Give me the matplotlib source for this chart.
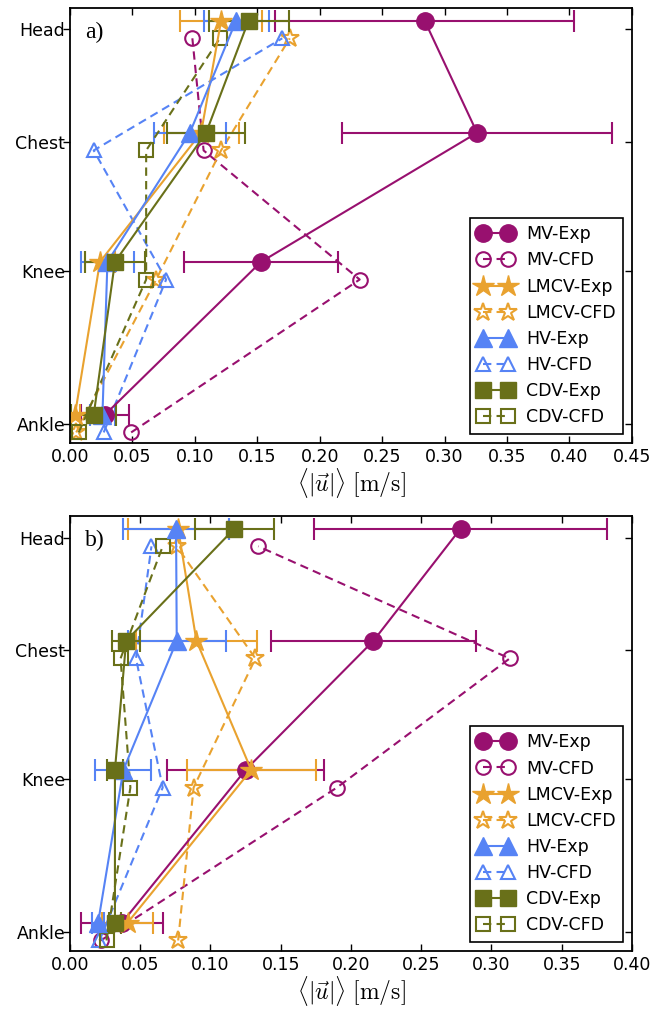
import numpy as np
import matplotlib
matplotlib.use('Agg')
import matplotlib.pyplot as plt
import matplotlib.lines as mlines

plt.rcParams['font.family'] = ['DejaVu Sans']
plt.rcParams['mathtext.fontset'] = 'cm'

# body locations (bottom to top) and their heights
levels = ['Ankle', 'Knee', 'Chest', 'Head']
heights = np.array([0.10, 0.55, 0.93, 1.26])

# panel a) -- mean speed [m/s] at Ankle, Knee, Chest, Head
mv_exp_a = [0.028, 0.153, 0.326, 0.284]
mv_err_a = [0.019, 0.062, 0.108, 0.120]
mv_cfd_a = [0.049, 0.232, 0.107, 0.098]
lmcv_exp_a = [0.004, 0.024, 0.105, 0.121]
lmcv_err_a = [0.004, 0.012, 0.030, 0.033]
lmcv_cfd_a = [0.005, 0.069, 0.121, 0.176]
hv_exp_a = [0.026, 0.030, 0.096, 0.133]
hv_err_a = [0.010, 0.021, 0.029, 0.026]
hv_cfd_a = [0.027, 0.077, 0.019, 0.170]
cdv_exp_a = [0.019, 0.036, 0.109, 0.143]
cdv_err_a = [0.018, 0.024, 0.031, 0.032]
cdv_cfd_a = [0.007, 0.061, 0.061, 0.120]

# panel b)
mv_exp_b = [0.037, 0.125, 0.216, 0.278]
mv_err_b = [0.029, 0.056, 0.073, 0.104]
mv_cfd_b = [0.022, 0.190, 0.313, 0.134]
lmcv_exp_b = [0.041, 0.129, 0.090, 0.077]
lmcv_err_b = [0.018, 0.046, 0.043, 0.036]
lmcv_cfd_b = [0.077, 0.088, 0.132, 0.076]
hv_exp_b = [0.020, 0.038, 0.076, 0.0755]
hv_err_b = [0.004, 0.020, 0.035, 0.038]
hv_cfd_b = [0.021, 0.066, 0.047, 0.058]
cdv_exp_b = [0.032, 0.032, 0.040, 0.117]
cdv_err_b = [0.004, 0.006, 0.010, 0.028]
cdv_cfd_b = [0.026, 0.043, 0.036, 0.066]

names = ['MV', 'LMCV', 'HV', 'CDV']
colors = ['#98106f', '#e9a22f', '#5683f5', '#697019']
markers = ['o', '*', '^', 's']
ms_exp = [12.5, 16, 12.5, 11.5]
ms_cfd = [10.5, 13.5, 10.5, 9.5]
off = 0.026
dash = (0, (4, 2.5))


def draw_panel(ax, exps, errs, cfds, xmax, tag):
    handles = []
    for i in range(4):
        ax.errorbar(exps[i], heights + off, xerr=errs[i], color=colors[i],
                    marker=markers[i], ms=ms_exp[i], mec=colors[i], mfc=colors[i],
                    lw=1.5, elinewidth=1.5, capsize=8, capthick=1.5)
        ax.plot(cfds[i], heights - off, color=colors[i], marker=markers[i],
                ms=ms_cfd[i], mfc='none', mec=colors[i], mew=1.5, lw=1.5, ls=dash)
        handles.append(mlines.Line2D([], [], color=colors[i], marker=markers[i],
                                     ms=ms_exp[i], mfc=colors[i], mec=colors[i],
                                     lw=1.5, label=names[i] + '-Exp'))
        handles.append(mlines.Line2D([], [], color=colors[i], marker=markers[i],
                                     ms=ms_cfd[i], mfc='none', mec=colors[i], mew=1.5,
                                     lw=1.5, ls=dash, label=names[i] + '-CFD'))
    ax.set_xlim(0, xmax)
    ax.set_ylim(0.043, 1.323)
    xt = np.arange(0, xmax + 0.001, 0.05)
    ax.set_xticks(xt)
    ax.set_xticklabels(['%.2f' % v for v in xt])
    ax.set_yticks(heights)
    ax.set_yticklabels(levels)
    ax.tick_params(direction='in', top=True, right=True, labelsize=12.5,
                   length=5, width=1)
    for t in ax.yaxis.get_major_ticks():
        t.tick1line.set_marker(mlines.TICKLEFT)
    for s in ax.spines.values():
        s.set_linewidth(1.3)
    ax.set_xlabel(r'$\langle|\vec{u}|\rangle\ [\mathrm{m/s}]$', fontsize=17, labelpad=0)
    ax.text(0.027, 0.945, tag, transform=ax.transAxes, fontsize=17,
            family='Liberation Serif', va='center')
    leg = ax.legend(handles=handles, loc='lower right', numpoints=2, fontsize=12.5,
                    handlelength=2.0, handletextpad=0.75, labelspacing=0.47,
                    borderpad=0.45, fancybox=False, edgecolor='black',
                    framealpha=1)
    leg.get_frame().set_linewidth(1.2)


fig = plt.figure(figsize=(6.69, 10.09), dpi=100)
ax1 = fig.add_axes([0.1046, 0.561, 0.840, 0.431])
ax2 = fig.add_axes([0.1046, 0.0575, 0.840, 0.431])

draw_panel(ax1, [mv_exp_a, lmcv_exp_a, hv_exp_a, cdv_exp_a],
           [mv_err_a, lmcv_err_a, hv_err_a, cdv_err_a],
           [mv_cfd_a, lmcv_cfd_a, hv_cfd_a, cdv_cfd_a], 0.45, 'a)')
draw_panel(ax2, [mv_exp_b, lmcv_exp_b, hv_exp_b, cdv_exp_b],
           [mv_err_b, lmcv_err_b, hv_err_b, cdv_err_b],
           [mv_cfd_b, lmcv_cfd_b, hv_cfd_b, cdv_cfd_b], 0.40, 'b)')

fig.savefig('out.png', dpi=100)
